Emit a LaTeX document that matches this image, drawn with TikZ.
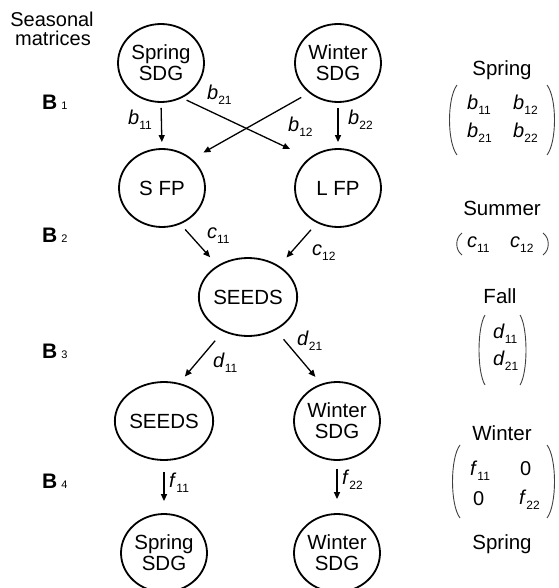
\documentclass[tikz,border=0pt]{standalone}
\usepackage{fontspec}
\setmainfont{Liberation Sans}
\usetikzlibrary{shapes.geometric,arrows.meta}
\newcommand\vlab[2]{\textit{#1}\raisebox{-5pt}{\fontsize{12}{12}\selectfont #2}}
\newcommand\blab[1]{\textbf{B}\hspace{4pt}{\fontsize{11}{11}\selectfont #1}}
\begin{document}
\begin{tikzpicture}[x=1pt,y=-1pt,
  st/.style={draw, ellipse, line width=1.8pt, minimum width=86pt, minimum height=78pt,
    inner sep=0pt, align=center, font=\fontsize{20.5}{21}\selectfont},
  arr/.style={line width=1.3pt, -{Triangle[length=7pt,width=6pt]}},
  lab/.style={anchor=base west, inner sep=0pt, font=\fontsize{20}{20}\selectfont},
  ttl/.style={anchor=base, inner sep=0pt, font=\fontsize{20.5}{21}\selectfont},
  par/.style={line width=0.9pt, draw=black!75}
]
\useasboundingbox (0,0) rectangle (558,588);

% left column labels
\node[anchor=base, inner sep=0pt, font=\fontsize{20}{20}\selectfont] (title1) at (52,27) {Seasonal};
\node[anchor=base, inner sep=0pt, font=\fontsize{20}{20}\selectfont] (title2) at (53,46) {matrices};
\node[lab, font=\fontsize{21}{21}\selectfont] (B1) at (42,110) {\blab{1}};
\node[lab, font=\fontsize{21}{21}\selectfont] (B2) at (42,242) {\blab{2}};
\node[lab, font=\fontsize{21}{21}\selectfont] (B3) at (42,358) {\blab{3}};
\node[lab, font=\fontsize{21}{21}\selectfont] (B4) at (42,488) {\blab{4}};

% state nodes
\node[st] (sp1) at (161,63) {Spring\\SDG};
\node[st] (wi1) at (338,63) {Winter\\SDG};
\node[st] (sfp) at (162,188) {S FP};
\node[st] (lfp) at (338,188) {L FP};
\node[st] (seeds1) at (248,297) {SEEDS};
\node[st] (seeds2) at (164,421) {SEEDS};
\node[st] (wi2) at (337,421) {Winter\\SDG};
\node[st] (sp2) at (164,553) {Spring\\SDG};
\node[st] (wi3) at (337,553) {Winter\\SDG};

% transitions
\draw[arr, shorten <=5pt, shorten >=6pt] (sp1.south) -- (sfp.north);
\draw[arr, shorten <=5pt, shorten >=6pt] (wi1.south) -- (lfp.north);
\draw[arr, shorten <=5pt, shorten >=21pt] (sp1.-59.5) -- (lfp.134);
\draw[arr, shorten <=9pt, shorten >=13pt] (wi1.226.6) -- (sfp.44.4);
\draw[arr, shorten <=7pt, shorten >=11pt] (sfp.-63.4) -- (seeds1.134.3);
\draw[arr, shorten <=9pt, shorten >=11pt] (lfp.239.2) -- (seeds1.45.7);
\draw[arr, shorten <=12pt, shorten >=8.5pt] (seeds1.234.2) -- (seeds2.68.2);
\draw[arr, shorten <=12pt, shorten >=9pt] (seeds1.-50.3) -- (wi2.113);
\draw[arr, shorten <=11pt, shorten >=12pt] (seeds2.south) -- (sp2.north);
\draw[arr, shorten <=8pt, shorten >=14pt] (wi2.south) -- (wi3.north);

% transition labels
\node[lab] (lb11) at (128,125) {\vlab{b}{11}};
\node[lab] (lb21) at (207,100) {\vlab{b}{21}};
\node[lab] (lb12) at (288,132) {\vlab{b}{12}};
\node[lab] (lb22) at (348,125) {\vlab{b}{22}};
\node[lab] (lc11) at (207,238) {\vlab{c}{11}};
\node[lab] (lc12) at (312,255) {\vlab{c}{12}};
\node[lab] (ld11) at (213,367) {\vlab{d}{11}};
\node[lab] (ld21) at (297,345) {\vlab{d}{21}};
\node[lab] (lf11) at (169,487) {\vlab{f}{11}};
\node[lab] (lf22) at (342,484) {\vlab{f}{22}};

% right column: seasonal matrices
\node[ttl] (tspring) at (502,76) {Spring};
\node[lab] (mb11) at (467,110) {\vlab{b}{11}};
\node[lab] (mb12) at (513,110) {\vlab{b}{12}};
\node[lab] (mb21) at (467,138) {\vlab{b}{21}};
\node[lab] (mb22) at (513,138) {\vlab{b}{22}};
\draw[par] (457,85) .. controls (447,98) and (447,142) .. (457,155);
\draw[par] (547,85) .. controls (557,98) and (557,142) .. (547,155);

\node[ttl] (tsummer) at (502,215) {Summer};
\node[lab] (mc11) at (467,247) {\vlab{c}{11}};
\node[lab] (mc12) at (510,247) {\vlab{c}{12}};
\draw[par] (462,233) .. controls (455,238) and (455,250) .. (462,255);
\draw[par] (543,233) .. controls (550,238) and (550,250) .. (543,255);

\node[ttl] (tfall) at (500,303) {Fall};
\node[lab] (md11) at (493,338) {\vlab{d}{11}};
\node[lab] (md21) at (493,365) {\vlab{d}{21}};
\draw[par] (485,315) .. controls (477,328) and (477,372) .. (485,385);
\draw[par] (520,315) .. controls (528,328) and (528,372) .. (520,385);

\node[ttl] (twinter) at (502,440) {Winter};
\node[lab] (mf11) at (470,475) {\vlab{f}{11}};
\node[lab] (mf12) at (520,475) {0};
\node[lab] (mf21) at (473,505) {0};
\node[lab] (mf22) at (519,504) {\vlab{f}{22}};
\draw[par] (460,445) .. controls (450,458) and (450,505) .. (460,518);
\draw[par] (547,445) .. controls (557,458) and (557,505) .. (547,518);
\node[ttl] (tspring2) at (502,549) {Spring};
\end{tikzpicture}
\end{document}
